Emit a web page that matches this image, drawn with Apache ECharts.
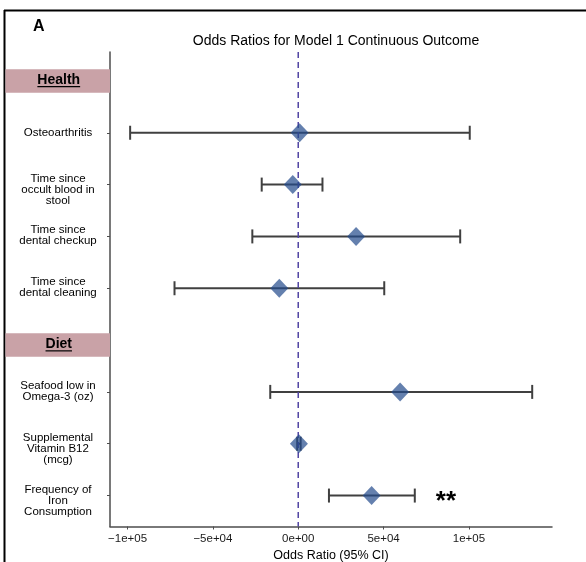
<!DOCTYPE html>
<html>
<head>
<meta charset="utf-8">
<script src="https://cdn.jsdelivr.net/npm/echarts@6/dist/echarts.min.js"></script>
<style>
  html, body { margin: 0; padding: 0; background: #ffffff; }
  #chart { width: 586px; height: 562px; }
</style>
</head>
<body>
<div id="chart"></div>
<script>
// ---- data ----
const headerLabels = ['Health', 'Diet'];
const headerRows = [1, 6];
const itemRows = [2, 3, 4, 5, 7, 8, 9];
const itemNames = [
  'Osteoarthritis',
  'Time since\noccult blood in\nstool',
  'Time since\ndental checkup',
  'Time since\ndental cleaning',
  'Seafood low in\nOmega-3 (oz)',
  'Supplemental\nVitamin B12\n(mcg)',
  'Frequency of\nIron\nConsumption'
];
const estimates = [800, -3200, 33900, -11100, 59700, 400, 43000];
const lowerCI = [-98500, -21400, -26900, -72500, -16400, -600, 18000];
const upperCI = [100500, 14200, 94900, 50400, 137100, 1400, 68300];
const significance = ['', '', '', '', '', '', '**'];
const xTickValues = [-100000, -50000, 0, 50000, 100000];
const xTickLabels = ['\u22121e+05', '\u22125e+04', '0e+00', '5e+04', '1e+05'];
const referenceValue = [0];

// ---- chart ----
const FONT = '"Liberation Sans", Arial, Helvetica, sans-serif';
const chart = echarts.init(document.getElementById('chart'), null, { renderer: 'canvas' });

const measureCtx = document.createElement('canvas').getContext('2d');
function textWidth(t, font) { measureCtx.font = font; return measureCtx.measureText(t).width; }

const X_MIN = -110300, X_MAX = 148700;
const Y_MIN = 0.442, Y_MAX = 9.597;
const headerShift = [0, 5];
const labelShiftByLines = { 1: 0, 2: -1, 3: 5 };

const option = {
  animation: false,
  backgroundColor: '#ffffff',
  title: {
    text: 'Odds Ratios for Model 1 Continuous Outcome',
    left: 331,
    top: 29,
    textAlign: 'center',
    textStyle: { fontFamily: FONT, fontSize: 14, fontWeight: 'normal', color: '#000000' }
  },
  graphic: [
    { type: 'line', shape: { x1: 4, y1: 10.5, x2: 586, y2: 10.5 }, style: { stroke: '#000', lineWidth: 2 } },
    { type: 'line', shape: { x1: 4.5, y1: 10, x2: 4.5, y2: 562 }, style: { stroke: '#000', lineWidth: 2 } },
    { type: 'text', left: 33, top: 19, style: { text: 'A', font: 'bold 16px ' + FONT, fill: '#000' } }
  ],
  grid: { left: 110, right: 34, top: 52, bottom: 35.5, containLabel: false, outerBoundsMode: 'none' },
  xAxis: {
    type: 'value',
    min: X_MIN,
    max: X_MAX,
    splitLine: { show: false },
    axisLine: { show: true, onZero: false, lineStyle: { color: '#4d4d4d', width: 1.5 } },
    axisTick: { show: true, customValues: xTickValues, length: 3, lineStyle: { color: '#4d4d4d', width: 1 } },
    axisLabel: {
      customValues: xTickValues,
      formatter: v => xTickLabels[xTickValues.indexOf(v)],
      fontFamily: FONT, fontSize: 11.5, color: '#1a1a1a', margin: 6
    },
    name: 'Odds Ratio (95% CI)',
    nameLocation: 'middle',
    nameGap: 18,
    nameTextStyle: { fontFamily: FONT, fontSize: 12.5, color: '#000' }
  },
  yAxis: {
    type: 'value',
    inverse: true,
    min: Y_MIN,
    max: Y_MAX,
    splitLine: { show: false },
    axisLine: { show: true, onZero: false, lineStyle: { color: '#4d4d4d', width: 1.5 } },
    axisTick: { show: true, customValues: itemRows, length: 3, lineStyle: { color: '#4d4d4d', width: 1 } },
    axisLabel: { show: false }
  },
  series: [
    {
      type: 'custom',
      name: 'rowLabels',
      z: 1,
      clip: false,
      silent: true,
      data: itemRows.map((r, i) => [X_MIN, r, i]),
      encode: { x: 0, y: 1 },
      renderItem: function (params, api) {
        const i = api.value(2);
        const c = api.coord([api.value(0), api.value(1)]);
        const txt = itemNames[i];
        const n = txt.split('\n').length;
        return {
          type: 'text',
          style: {
            x: params.coordSys.x - 52,
            y: c[1] + labelShiftByLines[n],
            text: txt,
            font: '11.5px ' + FONT,
            lineHeight: 11,
            fill: '#000',
            textAlign: 'center',
            textVerticalAlign: 'middle'
          }
        };
      }
    },
    {
      type: 'custom',
      name: 'headers',
      z: 1,
      clip: false,
      silent: true,
      data: headerRows.map((r, i) => [X_MIN, r, i]),
      encode: { x: 0, y: 1 },
      renderItem: function (params, api) {
        const i = api.value(2);
        const c = api.coord([api.value(0), api.value(1)]);
        const cy = c[1] + headerShift[i];
        const x0 = 5.5, x1 = params.coordSys.x;
        const h = 23.5;
        const font = 'bold 14px ' + FONT;
        const txt = headerLabels[i];
        const w = textWidth(txt, font);
        const cx = (x0 + x1) / 2 + 1;
        return {
          type: 'group',
          children: [
            { type: 'rect', shape: { x: x0, y: cy - h / 2, width: x1 - x0, height: h }, style: { fill: '#c9a2a7' } },
            { type: 'text', style: { x: cx, y: cy - 1, text: txt, font: font, fill: '#000', textAlign: 'center', textVerticalAlign: 'middle' } },
            { type: 'line', shape: { x1: cx - w / 2, y1: cy + 5.8, x2: cx + w / 2, y2: cy + 5.8 }, style: { stroke: '#000', lineWidth: 1.2 } }
          ]
        };
      }
    },
    {
      type: 'custom',
      name: 'errorbars',
      z: 2,
      clip: false,
      silent: true,
      data: itemRows.map((r, i) => [lowerCI[i], upperCI[i], r, i]),
      encode: { x: [0, 1], y: 2 },
      renderItem: function (params, api) {
        const y = api.value(2);
        const i = api.value(3);
        const p1 = api.coord([api.value(0), y]);
        const p2 = api.coord([api.value(1), y]);
        const h = 7;
        const st = { stroke: '#404040', lineWidth: 2 };
        const children = [
          { type: 'line', shape: { x1: p1[0], y1: p1[1], x2: p2[0], y2: p2[1] }, style: st },
          { type: 'line', shape: { x1: p1[0], y1: p1[1] - h, x2: p1[0], y2: p1[1] + h }, style: st },
          { type: 'line', shape: { x1: p2[0], y1: p2[1] - h, x2: p2[0], y2: p2[1] + h }, style: st }
        ];
        if (significance[i]) {
          children.push({
            type: 'text',
            style: { x: p2[0] + 21, y: p2[1] + 6, text: significance[i], font: 'bold 26px ' + FONT, fill: '#000', textAlign: 'left', textVerticalAlign: 'middle' }
          });
        }
        return { type: 'group', children: children };
      }
    },
    {
      type: 'custom',
      name: 'reference',
      z: 3,
      silent: true,
      data: referenceValue.map(v => [v, Y_MIN]),
      encode: { x: 0, y: 1 },
      renderItem: function (params, api) {
        const c = api.coord([api.value(0), api.value(1)]);
        const cs = params.coordSys;
        return {
          type: 'line',
          shape: { x1: c[0], y1: cs.y, x2: c[0], y2: cs.y + cs.height },
          style: { stroke: '#5245a3', lineWidth: 1.5, lineDash: [6, 4] }
        };
      }
    },
    {
      type: 'scatter',
      name: 'estimates',
      z: 4,
      silent: true,
      symbol: 'diamond',
      symbolSize: [18, 19],
      itemStyle: { color: '#224a8b', opacity: 0.7 },
      data: itemRows.map((r, i) => [estimates[i], r])
    }
  ]
};
chart.setOption(option);
</script>
</body>
</html>
